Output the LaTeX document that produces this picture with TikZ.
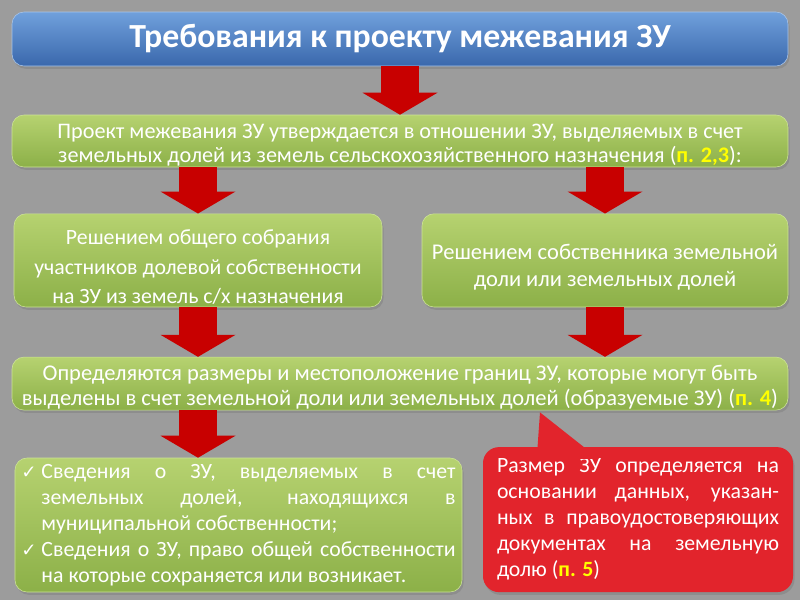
\documentclass[tikz,border=0pt]{standalone}
\usepackage{fontspec}
\setmainfont{Carlito}
\newfontfamily\symfont{DejaVu Sans}
\usetikzlibrary{arrows.meta,shadows,calc}

\definecolor{bggray}{RGB}{156,156,156}
\definecolor{bluetop}{RGB}{112,160,220}
\definecolor{bluebot}{RGB}{58,104,172}
\definecolor{greentop}{RGB}{182,210,112}
\definecolor{greenbot}{RGB}{140,176,72}
\definecolor{boxedge}{RGB}{205,228,150}
\definecolor{arrowred}{RGB}{200,0,0}
\definecolor{notered}{RGB}{226,36,44}
\definecolor{ptyellow}{RGB}{255,255,0}

\newcommand\punkt[1]{\textbf{\textcolor{ptyellow}{#1}}}
\newcommand\toppad[1]{\rule{0pt}{#1em}}
\newcommand\checkline{\noindent\hangindent=0.5cm\hangafter=1\makebox[0.5cm][l]{\symfont\fontsize{13}{13}\selectfont ✓}}

\tikzset{
  shade/.style={drop shadow={opacity=0.5,shadow xshift=0.04cm,shadow yshift=-0.07cm}},
  titlebox/.style={rounded corners=0.3cm,draw=bluetop!60!white,top color=bluetop,bottom color=bluebot,
    text=white,font=\bfseries\fontsize{24}{28}\selectfont,shade},
  greenbox/.style={rounded corners=0.3cm,draw=boxedge,top color=greentop,bottom color=greenbot,
    text=white,align=center,shade},
  notebox/.style={rounded corners=0.4cm,fill=notered,text=white,align=justify,shade},
  blockarrow/.style={draw=arrowred,line width=0.95cm,
    -{Triangle[width=1.875cm,length=0.55cm,line width=0pt]}}
}

\begin{document}
\begin{tikzpicture}[y=-1cm]
  \useasboundingbox (0,0) rectangle (20,15);
  \fill[bggray] (0,0) rectangle (20,15);

  % boxes
  \node[titlebox,minimum width=19.4cm,minimum height=1.35cm] (title) at (10,0.975)
    {Требования к проекту межевания ЗУ};
  \node[greenbox,inner ysep=0pt,minimum width=19.4cm,minimum height=1.3cm,font=\fontsize{15.8}{16.5}\selectfont] (proj) at (10,3.525)
    {\toppad{1.02}Проект межевания ЗУ утверждается в отношении ЗУ, выделяемых в счет\\
     земельных долей из земель сельскохозяйственного назначения (\punkt{п. 2,3}):};
  \node[greenbox,inner ysep=0pt,minimum width=9.2cm,minimum height=2.33cm,font=\fontsize{15.5}{21}\selectfont] (meet) at (4.95,6.51)
    {\toppad{1.3}Решением общего собрания\\ участников долевой собственности\\ на ЗУ из земель с/х назначения};
  \node[greenbox,inner ysep=0pt,minimum width=9.15cm,minimum height=2.33cm,font=\fontsize{16}{19.5}\selectfont] (owner) at (15.125,6.51)
    {\toppad{1.3}Решением собственника земельной\\ доли или земельных долей};
  \node[greenbox,inner ysep=0pt,minimum width=19.4cm,minimum height=1.325cm,font=\fontsize{16}{17.5}\selectfont] (size) at (10,9.59)
    {\toppad{1.02}Определяются размеры и местоположение границ ЗУ, которые могут быть\\
     выделены в счет земельной доли или земельных долей (образуемые ЗУ) (\punkt{п. 4})};
  \node[greenbox,align=justify,text width=10.85cm,inner xsep=0.16cm,minimum width=11.175cm,minimum height=3.35cm,
    font=\fontsize{15.5}{18.5}\selectfont] (list) at (5.9625,13.125)
    {\checkline Сведения о ЗУ, выделяемых в счет\linebreak земельных долей, находящихся в\linebreak муниципальной собственности;\par
     \checkline Сведения о ЗУ, право общей собственности\linebreak на которые сохраняется или возникает.\par};
  \node[notebox,text width=7.05cm,inner xsep=0.35cm,minimum width=7.75cm,minimum height=3.625cm,
    font=\fontsize{15.5}{18.5}\selectfont] (note) at (15.95,12.99)
    {Размер ЗУ определяется на\linebreak основании данных, указан-\linebreak ных в правоудостоверяющих\linebreak
     документах на земельную\linebreak долю (\punkt{п. 5})};
  \fill[notered] ($(size.south)+(3.5,0.05)$) -- ($(note.north west)+(1.35,0.3)$) -- ($(note.north west)+(2.9,0.3)$) -- cycle;

  % arrows
  \draw[blockarrow] (title.south) -- (proj.north);
  \draw[blockarrow] (proj.south -| meet.north) -- (meet.north);
  \draw[blockarrow] (proj.south -| owner.north) -- (owner.north);
  \draw[blockarrow] (meet.south) -- (size.north -| meet.south);
  \draw[blockarrow] (owner.south) -- (size.north -| owner.south);
  \draw[blockarrow] (size.south -| meet.south) -- (list.north -| meet.south);
\end{tikzpicture}
\end{document}
